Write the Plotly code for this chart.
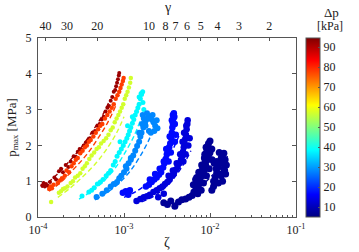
import plotly.graph_objects as go

# ---------------- data ----------------
DP = [92, 78, 57, 38, 28, 17, 13, 7]  # Δp [kPa] of each group

Z1 = [1.12e-4,1.16e-4,1.2e-4,1.24e-4,1.3e-4,1.38e-4,1.55e-4,1.62e-4,1.75e-4,1.85e-4,1.95e-4,
      2.1e-4,2.25e-4,2.4e-4,2.6e-4,2.75e-4,2.9e-4,3.05e-4,3.2e-4,3.4e-4,3.6e-4,3.8e-4,4.0e-4,
      4.3e-4,4.6e-4,4.9e-4,5.2e-4,5.5e-4,5.8e-4,6.1e-4,6.4e-4,6.7e-4,7.0e-4,7.3e-4,7.6e-4,
      7.9e-4,8.1e-4,8.3e-4,8.5e-4,8.7e-4,8.8e-4]
P1 = [0.88,0.95,0.85,0.92,0.87,0.98,1.1,1.05,1.28,1.35,1.25,
      1.45,1.4,1.55,1.7,1.68,1.82,1.9,1.88,2.0,2.08,2.12,2.2,
      2.35,2.4,2.55,2.6,2.72,2.8,2.95,3.05,3.1,3.25,3.35,3.5,
      3.55,3.65,3.75,3.85,3.95,4.02]

Z2 = [1.35e-4,1.4e-4,1.45e-4,1.52e-4,1.7e-4,1.8e-4,1.9e-4,2.05e-4,2.15e-4,2.3e-4,2.45e-4,
      2.6e-4,2.75e-4,2.9e-4,3.1e-4,3.3e-4,3.5e-4,3.7e-4,3.9e-4,4.1e-4,4.4e-4,4.7e-4,5.0e-4,
      5.3e-4,5.6e-4,6.0e-4,6.4e-4,6.8e-4,7.2e-4,7.6e-4,8.0e-4,8.4e-4,8.8e-4,9.1e-4,9.4e-4,
      9.7e-4,9.9e-4]
P2 = [0.78,0.85,0.8,0.9,0.95,1.02,1.08,1.15,1.3,1.25,1.42,
      1.5,1.6,1.65,1.78,1.85,1.95,2.0,2.1,2.15,2.25,2.35,2.45,
      2.55,2.6,2.75,2.85,2.95,3.05,3.15,3.3,3.4,3.5,3.6,3.7,
      3.8,3.88]

Z3 = [1.42e-4,1.75e-4,1.85e-4,1.95e-4,2.05e-4,2.2e-4,2.4e-4,2.55e-4,2.7e-4,2.9e-4,
      3.1e-4,3.3e-4,3.5e-4,3.7e-4,3.95e-4,4.2e-4,4.5e-4,4.8e-4,5.1e-4,5.4e-4,5.8e-4,6.2e-4,
      6.6e-4,7.0e-4,7.4e-4,7.8e-4,8.2e-4,8.6e-4,9.0e-4,9.4e-4,9.8e-4,1.02e-3,1.06e-3,
      1.1e-3,1.14e-3,1.18e-3,1.2e-3]
P3 = [0.42,0.68,0.72,0.78,0.8,0.85,0.95,1.0,1.1,1.15,
      1.22,1.35,1.42,1.5,1.62,1.72,1.8,1.9,1.95,2.05,2.12,2.2,
      2.3,2.42,2.5,2.65,2.75,2.85,2.95,3.05,3.15,3.3,3.4,
      3.5,3.62,3.75,3.88]

Z4 = [3.25e-4,3.9e-4,4.2e-4,4.5e-4,4.9e-4,5.3e-4,5.7e-4,6.2e-4,6.6e-4,7.0e-4,
      7.5e-4,7.9e-4,8.3e-4,8.8e-4,9.3e-4,9.8e-4,1.03e-3,1.08e-3,1.12e-3,
      1.16e-3,1.2e-3,1.25e-3,1.3e-3,1.35e-3,1.4e-3,1.45e-3,1.5e-3,1.55e-3,1.6e-3,1.65e-3,
      1.5e-3,1.58e-3,1.66e-3,1.7e-3,1.25e-3,1.1e-3,9.0e-4]
P4 = [0.59,0.7,0.75,0.82,0.92,0.98,1.05,1.15,1.22,1.3,
      1.45,1.55,1.7,1.8,1.9,2.0,2.1,2.2,2.3,
      2.4,2.5,2.62,2.72,2.85,2.95,3.05,3.15,3.3,3.42,3.5,
      3.35,3.45,3.2,3.0,2.8,2.55,2.1]

Z5 = [4.8e-4,5.6e-4,6.3e-4,7.0e-4,7.6e-4,8.3e-4,8.8e-4,9.3e-4,1.0e-3,1.07e-3,1.13e-3,
      1.2e-3,1.28e-3,1.35e-3,1.42e-3,1.5e-3,1.55e-3,1.6e-3,1.68e-3,1.75e-3,
      1.8e-3,1.9e-3,2.0e-3,2.1e-3,2.2e-3,1.65e-3,1.85e-3,2.3e-3,2.45e-3,1.95e-3,2.05e-3,
      1.7e-3,1.78e-3,2.15e-3,2.25e-3,2.4e-3,1.5e-3,1.62e-3,1.05e-3,1.2e-3]
P5 = [0.56,0.65,0.75,0.85,0.92,0.98,1.08,1.15,1.25,1.35,1.5,
      1.6,1.72,1.85,1.98,2.1,2.25,2.35,2.5,2.62,
      2.7,2.75,2.8,2.72,2.65,2.85,2.9,2.55,2.48,2.4,2.35,
      2.75,2.55,2.85,2.4,2.7,2.35,2.6,1.42,1.65]

Z6 = [9.7e-4,1.05e-3,1.12e-3,1.17e-3,1.8e-3,1.95e-3,2.1e-3,2.25e-3,2.4e-3,2.55e-3,2.7e-3,
      2.85e-3,2.95e-3,3.05e-3,3.15e-3,3.25e-3,3.35e-3,3.45e-3,3.55e-3,3.6e-3,3.65e-3,3.7e-3,
      3.75e-3,3.8e-3,3.3e-3,3.5e-3,3.9e-3,4.0e-3,3.6e-3,3.7e-3,
      2.0e-3,2.3e-3,2.6e-3,2.9e-3,3.1e-3,3.4e-3,3.9e-3,3.85e-3]
P6 = [0.68,0.72,0.62,0.75,0.85,0.9,0.98,1.05,1.1,1.18,1.25,
      1.38,1.5,1.62,1.75,1.85,1.95,2.05,2.2,2.35,2.5,2.62,
      2.75,2.9,1.55,1.8,2.1,2.3,2.7,2.85,
      1.05,1.2,1.35,1.55,1.9,2.25,2.6,2.8]

Z7 = [1.4e-3,1.55e-3,1.7e-3,1.85e-3,2.0e-3,2.2e-3,2.4e-3,2.6e-3,2.8e-3,3.0e-3,3.2e-3,
      3.4e-3,3.6e-3,3.8e-3,4.0e-3,4.2e-3,4.4e-3,4.6e-3,4.75e-3,4.85e-3,4.95e-3,5.05e-3,
      5.15e-3,5.25e-3,5.35e-3,5.45e-3,4.9e-3,5.2e-3,5.6e-3,5.8e-3,
      3.3e-3,3.7e-3,4.1e-3,4.5e-3,4.8e-3,5.0e-3,5.3e-3,5.5e-3,2.5e-3,2.9e-3]
P7 = [0.45,0.5,0.55,0.58,0.62,0.7,0.75,0.8,0.85,0.92,0.98,
      1.05,1.15,1.22,1.32,1.4,1.5,1.6,1.7,1.82,1.95,2.05,
      2.18,2.3,2.45,2.6,1.55,1.75,2.0,2.2,
      1.15,1.3,1.5,1.75,2.1,2.35,2.55,2.7,0.55,0.65]

Z8 = [2.9e-3,3.2e-3,3.5e-3,3.9e-3,4.3e-3,4.7e-3,5.2e-3,5.7e-3,6.2e-3,
      6.5e-3,6.9e-3,7.3e-3,7.7e-3,8.1e-3,8.5e-3,8.9e-3,9.3e-3,9.7e-3,
      6.8e-3,7.4e-3,8.0e-3,8.6e-3,9.2e-3,9.0e-3,9.6e-3,1.0e-2,1.05e-2,
      1.1e-2,1.15e-2,1.2e-2,1.25e-2,1.3e-2,1.35e-2,1.4e-2,1.45e-2,1.5e-2,1.55e-2,
      1.25e-2,1.35e-2,1.45e-2,1.05e-2,1.1e-2,
      6.4e-3,7.0e-3,7.6e-3,8.2e-3,8.8e-3,9.4e-3,1.0e-2,1.06e-2,1.12e-2,1.18e-2,
      7.2e-3,7.9e-3,8.4e-3,9.1e-3,9.8e-3,1.2e-2,1.28e-2,1.38e-2,1.48e-2,1.52e-2,
      1.3e-2,1.4e-2,8.7e-3,9.5e-3]
P8 = [0.4,0.35,0.45,0.3,0.42,0.48,0.5,0.55,0.6,
      0.7,0.8,0.9,1.0,1.15,1.3,1.45,1.6,1.75,
      1.05,1.25,1.45,1.65,1.85,1.95,2.05,2.12,1.9,
      1.0,1.1,1.25,1.4,1.55,1.65,1.72,1.78,1.6,1.45,
      0.95,1.15,1.35,0.75,0.85,
      0.9,1.1,1.2,1.35,1.55,1.7,1.8,1.6,1.5,1.35,
      0.65,0.75,0.95,1.15,1.35,1.55,1.8,1.5,1.3,1.2,
      1.2,1.0,1.75,1.95]

# dashed model curves (one per group)
DZ1 = [1.1e-4, 1.6e-4, 2.3e-4, 3.2e-4, 4.3e-4, 5.5e-4, 6.8e-4]
DP1 = [0.82, 1.15, 1.55, 1.95, 2.4, 2.8, 3.25]
DZ2 = [1.35e-4, 1.9e-4, 2.7e-4, 3.7e-4, 5.0e-4, 6.5e-4, 8.0e-4]
DP2 = [0.72, 1.0, 1.38, 1.75, 2.2, 2.65, 3.1]
DZ3 = [1.7e-4, 2.4e-4, 3.4e-4, 4.7e-4, 6.3e-4, 8.2e-4, 1.0e-3]
DP3 = [0.55, 0.82, 1.15, 1.5, 1.9, 2.35, 2.8]
DZ4 = [3.0e-4, 4.2e-4, 5.8e-4, 7.8e-4, 1.0e-3, 1.3e-3, 1.55e-3]
DP4 = [0.5, 0.72, 1.0, 1.35, 1.75, 2.25, 2.7]
DZ5 = [4.6e-4, 6.5e-4, 8.8e-4, 1.15e-3, 1.5e-3, 1.9e-3, 2.3e-3]
DP5 = [0.48, 0.7, 0.95, 1.25, 1.65, 2.1, 2.55]
DZ6 = [1.0e-3, 1.4e-3, 1.9e-3, 2.5e-3, 3.2e-3, 3.9e-3, 4.5e-3]
DP6 = [0.55, 0.72, 0.95, 1.25, 1.6, 2.0, 2.35]
DZ7 = [1.6e-3, 2.3e-3, 3.1e-3, 4.0e-3, 5.0e-3, 6.0e-3]
DP7 = [0.42, 0.6, 0.85, 1.15, 1.5, 1.85]
DZ8 = [3.0e-3, 4.2e-3, 5.8e-3, 7.8e-3, 1.0e-2, 1.3e-2, 1.6e-2]
DP8 = [0.3, 0.42, 0.6, 0.85, 1.1, 1.4, 1.7]

X_TICKS = [1e-4, 1e-3, 1e-2, 1e-1]
X_TICKTEXT = ["10<sup>-4</sup>", "10<sup>-3</sup>", "10<sup>-2</sup>", "10<sup>-1</sup>"]
GAMMA_TICKS = [40, 30, 20, 10, 8, 7, 6, 5, 4, 3, 2]
GAMMA_K = 0.195  # zeta = K / gamma^2
CB_TICKS = [10, 20, 30, 40, 50, 60, 70, 80, 90]
CMIN, CMAX = 5, 94.5

# ---------------- styling ----------------
FONT = "Liberation Serif, Times New Roman, serif"
JET = [[0, "rgb(0,0,128)"], [0.125, "rgb(0,0,255)"], [0.375, "rgb(0,255,255)"],
       [0.625, "rgb(255,255,0)"], [0.875, "rgb(255,0,0)"], [1, "rgb(128,0,0)"]]


def jet(v):
    t = (v - CMIN) / (CMAX - CMIN)
    c = lambda x: max(0.0, min(1.0, x))
    r = c(1.5 - abs(4 * t - 3)); g = c(1.5 - abs(4 * t - 2)); b = c(1.5 - abs(4 * t - 1))
    return "rgb(%d,%d,%d)" % (r * 255, g * 255, b * 255)


groups = [(Z1, P1), (Z2, P2), (Z3, P3), (Z4, P4), (Z5, P5), (Z6, P6), (Z7, P7), (Z8, P8)]
dashed = [(DZ1, DP1), (DZ2, DP2), (DZ3, DP3), (DZ4, DP4), (DZ5, DP5), (DZ6, DP6), (DZ7, DP7), (DZ8, DP8)]
sizes = [4, 4.5, 4.5, 5, 6, 6.5, 6.5, 7]

fig = go.Figure()
for (dz, dpv), dp in zip(dashed, DP):
    fig.add_trace(go.Scatter(x=dz, y=dpv, mode="lines", line=dict(color=jet(dp), width=1.4, dash="5px,3px"),
                             line_shape="spline", hoverinfo="skip", showlegend=False))
for (z, p), dp, s in zip(groups, DP, sizes):
    fig.add_trace(go.Scatter(x=z, y=p, mode="markers", showlegend=False,
                             marker=dict(size=s, color=[dp] * len(z), coloraxis="coloraxis", line=dict(width=0))))

# invisible trace to activate top axis
fig.add_trace(go.Scatter(x=[1e-4], y=[0], xaxis="x2", mode="markers", marker=dict(opacity=0),
                         showlegend=False, hoverinfo="skip"))

axcol = "#555555"
minor_vals = [m * 10 ** e for e in range(-4, -1) for m in range(2, 10)]
fig.update_layout(
    width=359, height=252,
    margin=dict(l=38, r=63, t=38, b=35, autoexpand=False),
    paper_bgcolor="white", plot_bgcolor="white",
    font=dict(family=FONT, size=12, color="#222"),
    xaxis=dict(type="log", range=[-4, -1], tickvals=X_TICKS, ticktext=X_TICKTEXT, automargin=False,
               ticks="inside", ticklen=4, tickcolor=axcol, showline=True, linecolor=axcol, linewidth=1,
               mirror=True, showgrid=False, zeroline=False, ticklabelstandoff=2,
               minor=dict(tickvals=minor_vals, ticks="inside", ticklen=2, tickcolor=axcol),
               title=dict(text="ζ", font=dict(size=14), standoff=0)),
    xaxis2=dict(type="log", range=[-4, -1], overlaying="x", side="top", automargin=False,
                tickvals=[GAMMA_K / g ** 2 for g in GAMMA_TICKS], ticktext=[str(g) for g in GAMMA_TICKS],
                ticks="inside", ticklen=3, tickcolor=axcol, showgrid=False, zeroline=False, showline=False,
                ticklabelstandoff=5),
    yaxis=dict(range=[0, 5], tickvals=[0, 1, 2, 3, 4, 5], ticks="inside", ticklen=4, tickcolor=axcol,
               showline=True, linecolor=axcol, linewidth=1, mirror="ticks", showgrid=False, zeroline=False,
               automargin=False, ticklabelstandoff=3,
               title=dict(text="p<sub>max</sub> [MPa]", font=dict(size=13), standoff=6)),
    coloraxis=dict(colorscale=JET, cmin=CMIN, cmax=CMAX,
                   colorbar=dict(x=1.0376, xanchor="left", xpad=0, ypad=0, y=0.5, yanchor="middle",
                                 len=1, lenmode="fraction", thickness=14, outlinewidth=1,
                                 outlinecolor=axcol, tickvals=CB_TICKS, ticks="inside", ticklen=2,
                                 tickcolor=axcol, tickfont=dict(size=12))),
    annotations=[
        dict(text="γ", xref="paper", yref="paper", x=0.5, y=1.168, showarrow=False,
             font=dict(size=14), xanchor="center", yanchor="middle"),
        dict(text="Δp", xref="paper", yref="paper", x=1.136, y=1.145, showarrow=False,
             font=dict(size=13), xanchor="center", yanchor="middle"),
        dict(text="[kPa]", xref="paper", yref="paper", x=1.13, y=1.067, showarrow=False,
             font=dict(size=12), xanchor="center", yanchor="middle"),
    ],
)

fig.write_html("out.html", config={"displayModeBar": False},
               post_script="document.body.style.margin='0';")
